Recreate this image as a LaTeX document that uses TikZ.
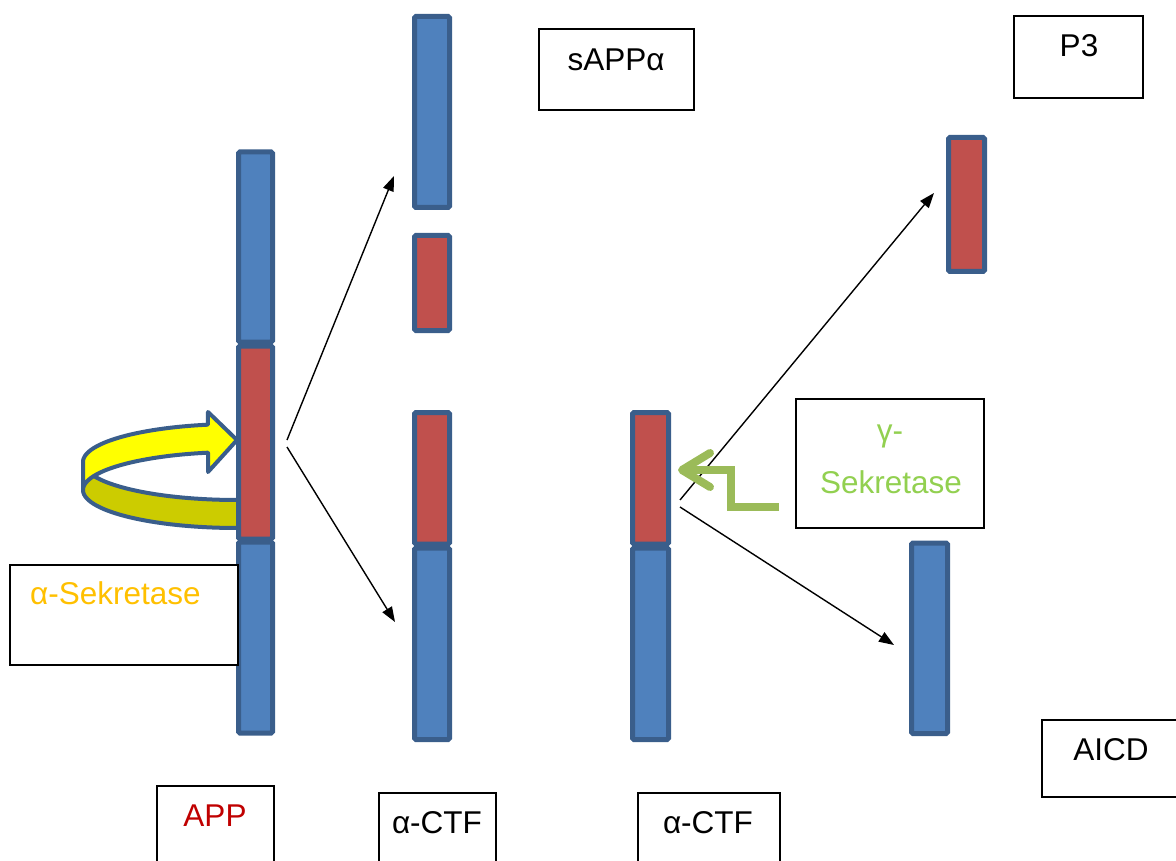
\documentclass[tikz,border=0pt]{standalone}
\usepackage{fontspec}
\setmainfont{Liberation Sans}
\usetikzlibrary{arrows.meta}
\definecolor{barblue}{HTML}{4F81BD}
\definecolor{barred}{HTML}{C0504D}
\definecolor{barline}{HTML}{3A5E8B}
\definecolor{ylw}{HTML}{FFFF00}
\definecolor{dylw}{HTML}{CCCC00}
\definecolor{garrow}{HTML}{9BBB59}
\definecolor{gtext}{HTML}{92D050}
\definecolor{otext}{HTML}{FFC000}
\definecolor{rtext}{HTML}{C00000}
\tikzset{
  bluebar/.style={draw=barline, fill=barblue, line width=5pt, rounded corners=1.5pt},
  redbar/.style={draw=barline, fill=barred, line width=5pt, rounded corners=1.5pt},
  labelbox/.style={draw=black, fill=white, line width=1.8pt, inner sep=0pt},
  lbl/.style={inner sep=0pt, anchor=base, font=\fontsize{31.5}{37}\selectfont},
  conn/.style={line width=1.4pt, -{Triangle[length=15pt,width=11pt]}},
  band/.style={draw=barline, line width=4pt, line join=round},
}
\begin{document}
\begin{tikzpicture}[x=1pt,y=-1pt]
\useasboundingbox (0,0) rectangle (1176,861);

% circular alpha-secretase arrow
\fill[dylw] (83,462) -- plot[domain=180:90, samples=40] ({237+154*cos(\x)},{462+38*sin(\x)}) -- (237,528) -- plot[domain=90:180, samples=40] ({237+154*cos(\x)},{490+38*sin(\x)}) -- cycle;
\draw[band] (237,500) -- plot[domain=90:180, samples=40] ({237+154*cos(\x)},{462+38*sin(\x)});
\draw[band] (237,528) -- plot[domain=90:180, samples=40] ({237+154*cos(\x)},{490+38*sin(\x)});
\draw[band, fill=ylw] (83,462) -- plot[domain=180:259.1, samples=40] ({237+154*cos(\x)},{462+38*sin(\x)}) -- (208,412) -- (237,440) -- (208,472) -- (208,453) -- plot[domain=259.1:180, samples=40] ({237+154*cos(\x)},{490+38*sin(\x)}) -- cycle;

% APP bar
\path[bluebar] (238.5,152) rectangle (272.5,342);
\path[redbar]  (238.5,346) rectangle (272.5,539);
\path[bluebar] (238.5,542) rectangle (272.5,733);

% column 2
\path[bluebar] (414.5,16.5) rectangle (449.5,207.5);
\path[redbar]  (414.5,235.5) rectangle (449.5,330.5);
\path[redbar]  (414.5,412.5) rectangle (449.5,544);
\path[bluebar] (414.5,548) rectangle (449.5,739.5);

% column 3
\path[redbar]  (632.5,412.5) rectangle (668.5,544);
\path[bluebar] (632.5,548) rectangle (668.5,739.5);

% P3 and AICD fragments
\path[redbar]  (948.5,137.5) rectangle (984.5,271.5);
\path[bluebar] (911.5,543) rectangle (947.5,733.5);

% connectors
\coordinate (s1) at (287,440);
\coordinate (s2) at (287,447);
\coordinate (e1) at (394,176);
\coordinate (e2) at (395,622);
\coordinate (s3) at (680,500);
\coordinate (s4) at (680,507);
\coordinate (e3) at (934,193);
\coordinate (e4) at (894,645);
\draw[conn] (s1) -- (e1);
\draw[conn] (s2) -- (e2);
\draw[conn] (s3) -- (e3);
\draw[conn] (s4) -- (e4);

% gamma-secretase bent arrow
\coordinate (g0) at (779,507);
\coordinate (g1) at (731,507);
\coordinate (g2) at (731,470);
\coordinate (g3) at (690,470);
\coordinate (gt) at (682,470);
\coordinate (gw1) at (710,453);
\coordinate (gw2) at (710,487);
\draw[garrow, line width=8pt, line join=miter] (g0) -- (g1) -- (g2) -- (g3);
\draw[garrow, line width=8pt, line join=round, line cap=round] (gw1) -- (gt) -- (gw2);

% label boxes
\node[labelbox, minimum width=155pt, minimum height=81pt] (bsapp) at (616.5,69.5) {};
\node[lbl] (tsapp) at (616,71) {sAPPα};
\node[labelbox, minimum width=129pt, minimum height=82pt] (bp3) at (1078.5,57) {};
\node[lbl] (tp3) at (1079,57) {P3};
\node[labelbox, minimum width=188pt, minimum height=129pt] (bgam) at (890,463.5) {};
\node[lbl, text=gtext] (tgam1) at (890,441) {γ-};
\node[lbl, text=gtext] (tgam2) at (891,493) {Sekretase};
\node[labelbox, minimum width=228pt, minimum height=100pt] (balpha) at (124,615) {};
\node[lbl, text=otext, anchor=base west] (talpha) at (30,604) {α-Sekretase};
\node[labelbox, minimum width=117pt, minimum height=86pt] (bapp) at (215.5,829) {};
\node[lbl, text=rtext] (tapp) at (215,826) {APP};
\node[labelbox, minimum width=117pt, minimum height=78pt] (bctf1) at (437.5,832) {};
\node[lbl] (tctf1) at (437,833) {α-CTF};
\node[labelbox, minimum width=142pt, minimum height=78pt] (bctf2) at (709,832) {};
\node[lbl] (tctf2) at (708,833) {α-CTF};
\node[labelbox, minimum width=140pt, minimum height=77pt] (baicd) at (1112,758.5) {};
\node[lbl] (taicd) at (1111,760) {AICD};
\end{tikzpicture}
\end{document}
